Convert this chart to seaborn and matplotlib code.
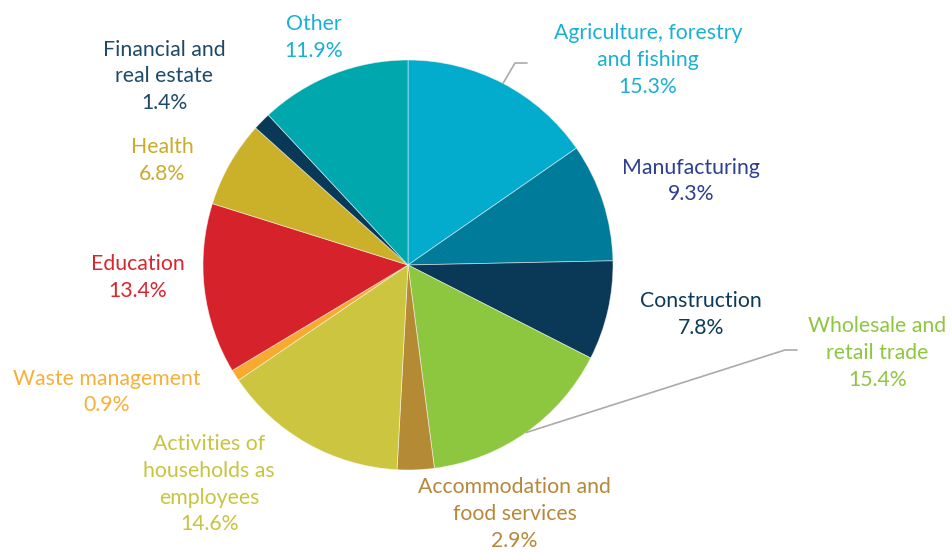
import numpy as np
import matplotlib
matplotlib.use("Agg")
import matplotlib.pyplot as plt
import seaborn as sns

sectors = [
    "Agriculture, forestry\nand fishing", "Manufacturing", "Construction",
    "Wholesale and\nretail trade", "Accommodation and\nfood services",
    "Activities of\nhouseholds as\nemployees", "Waste management", "Education",
    "Health", "Financial and\nreal estate", "Other",
]
shares = [15.3, 9.3, 7.8, 15.4, 2.9, 14.6, 0.9, 13.4, 6.8, 1.4, 11.9]
wedge_colors = ["#03abcd", "#007b9a", "#0a3857", "#8dc63f", "#b58a35", "#cbc53f",
                "#f7aa30", "#d6232b", "#cbb02a", "#0a3857", "#00a8ae"]
label_colors = ["#1ab0d4", "#2e3f8f", "#0b3a5a", "#8dc63f", "#b5883a", "#c9c43f",
                "#f6b03a", "#d7262e", "#c9ac2a", "#1e4a6a", "#1ab0d4"]
# label centres (pie-radius units, relative to the pie centre)
label_xy = [(1.17, 1.00), (1.38, 0.41), (1.43, -0.24), (2.29, -0.43), (0.52, -1.215),
            (-0.97, -1.07), (-1.47, -0.62), (-1.32, -0.06), (-1.20, 0.51),
            (-1.19, 0.92), (-0.46, 1.11)]
leader = {0: [(515, 63), (527, 63)], 3: [(785, 350), (797, 350)]}

sns.set_theme(style="white")
plt.rcParams["font.family"] = ["Lato", "DejaVu Sans"]

W, H = 952, 552
cx, cy, R = 408, 265, 205
fig = plt.figure(figsize=(W / 100, H / 100), dpi=100)
ax = fig.add_axes([(cx - R) / W, (H - cy - R) / H, 2 * R / W, 2 * R / H])
ax.set_aspect("equal")
ax.axis("off")

palette = sns.color_palette(wedge_colors)
wedges, _ = ax.pie(shares, colors=palette, startangle=90, counterclock=False,
                   radius=1.0, wedgeprops=dict(edgecolor=(1, 1, 1, 0.55), linewidth=0.6))
ax.set_xlim(-1, 1)
ax.set_ylim(-1, 1)

for i, (name, val) in enumerate(zip(sectors, shares)):
    lx, ly = label_xy[i]
    ax.text(lx, ly, f"{name}\n{val}%", ha="center", va="center", fontsize=15.3,
            color=label_colors[i], linespacing=1.42, clip_on=False)

def to_data(p):
    return ((p[0] - cx) / R, (cy - p[1]) / R)

for i, pts in leader.items():
    w = wedges[i]
    ang = np.deg2rad((w.theta1 + w.theta2) / 2)
    start = (np.cos(ang), np.sin(ang))
    path = [start] + [to_data(p) for p in pts]
    xs, ys = zip(*path)
    ax.plot(xs, ys, color="#aaaaaa", lw=1.2, clip_on=False, solid_joinstyle="miter")

fig.savefig("out.png", dpi=100)
